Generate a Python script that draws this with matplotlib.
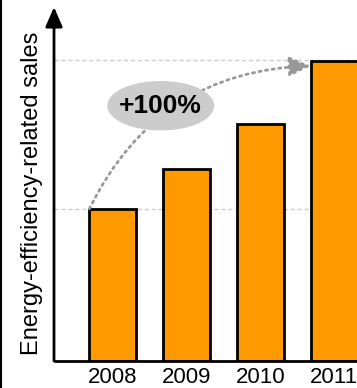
import matplotlib
matplotlib.use("Agg")
import matplotlib.pyplot as plt
from matplotlib.lines import Line2D
from matplotlib.patches import Ellipse, FancyArrowPatch

plt.rcParams["font.family"] = ["Liberation Sans", "DejaVu Sans"]

years = ["2008", "2009", "2010", "2011"]
sales = [100, 126, 156, 197]
gridlines = [100, 198]

bar_color = "#FF9900"
bar_width = 0.635

fig = plt.figure(figsize=(3.57, 3.88), dpi=100)
ax = fig.add_axes([54 / 357, 27 / 388, 303 / 357, 354 / 388])

x = list(range(len(years)))
for g in gridlines:
    ax.axhline(g, color="#cccccc", lw=1, ls=(0, (3, 2)), zorder=1)

ax.bar(x, sales, width=bar_width, color=bar_color, edgecolor="black",
       linewidth=2, zorder=2)

ax.set_xlim(-0.797, 3.31)
ax.set_ylim(0, 232.7)
ax.set_xticks(x)
ax.set_xticklabels(years, fontsize=16)
ax.tick_params(axis="x", length=0, pad=4)
ax.set_yticks([])

for side in ["top", "right", "left"]:
    ax.spines[side].set_visible(False)
ax.spines["bottom"].set_linewidth(2)
ax.spines["bottom"].set_capstyle("butt")

# y axis with arrow head
ax.add_patch(FancyArrowPatch((0, 0), (0, 1), transform=ax.transAxes,
                             arrowstyle="-|>,head_length=0.6,head_width=0.26",
                             mutation_scale=20, color="black", lw=2,
                             shrinkA=0, shrinkB=0, clip_on=False, zorder=5))

# thin dark border on the left edge
fig.add_artist(Line2D([0.5 / 357, 0.5 / 357], [0, 1], color="black", lw=1.5))

fig.text(38 / 357, 1 - 193 / 388, "Energy-efficiency-related sales",
         rotation=90, rotation_mode="anchor", fontsize=17,
         ha="center", va="baseline")

# growth annotation
start = (x[0] - bar_width / 2, sales[0])
end = (x[-1] - bar_width / 2, sales[-1] - 3)
ax.add_patch(FancyArrowPatch(start, end, connectionstyle="arc3,rad=-0.3",
                             arrowstyle="-|>,head_length=0.65,head_width=0.3",
                             mutation_scale=20, color="#999999", lw=2,
                             ls=(0, (0.8, 1.6)), shrinkA=0, shrinkB=0, zorder=3))

growth = (sales[-1] / sales[0] - 1) * 100
ax.add_patch(Ellipse((0.649, 167.8), 1.43, 31.6, color="#cccccc", zorder=4))
ax.text(0.649, 167.8, f"+{round(growth / 10) * 10:.0f}%", fontsize=19,
        fontweight="bold", ha="center", va="center", zorder=5)

fig.savefig("out.png", dpi=100)
